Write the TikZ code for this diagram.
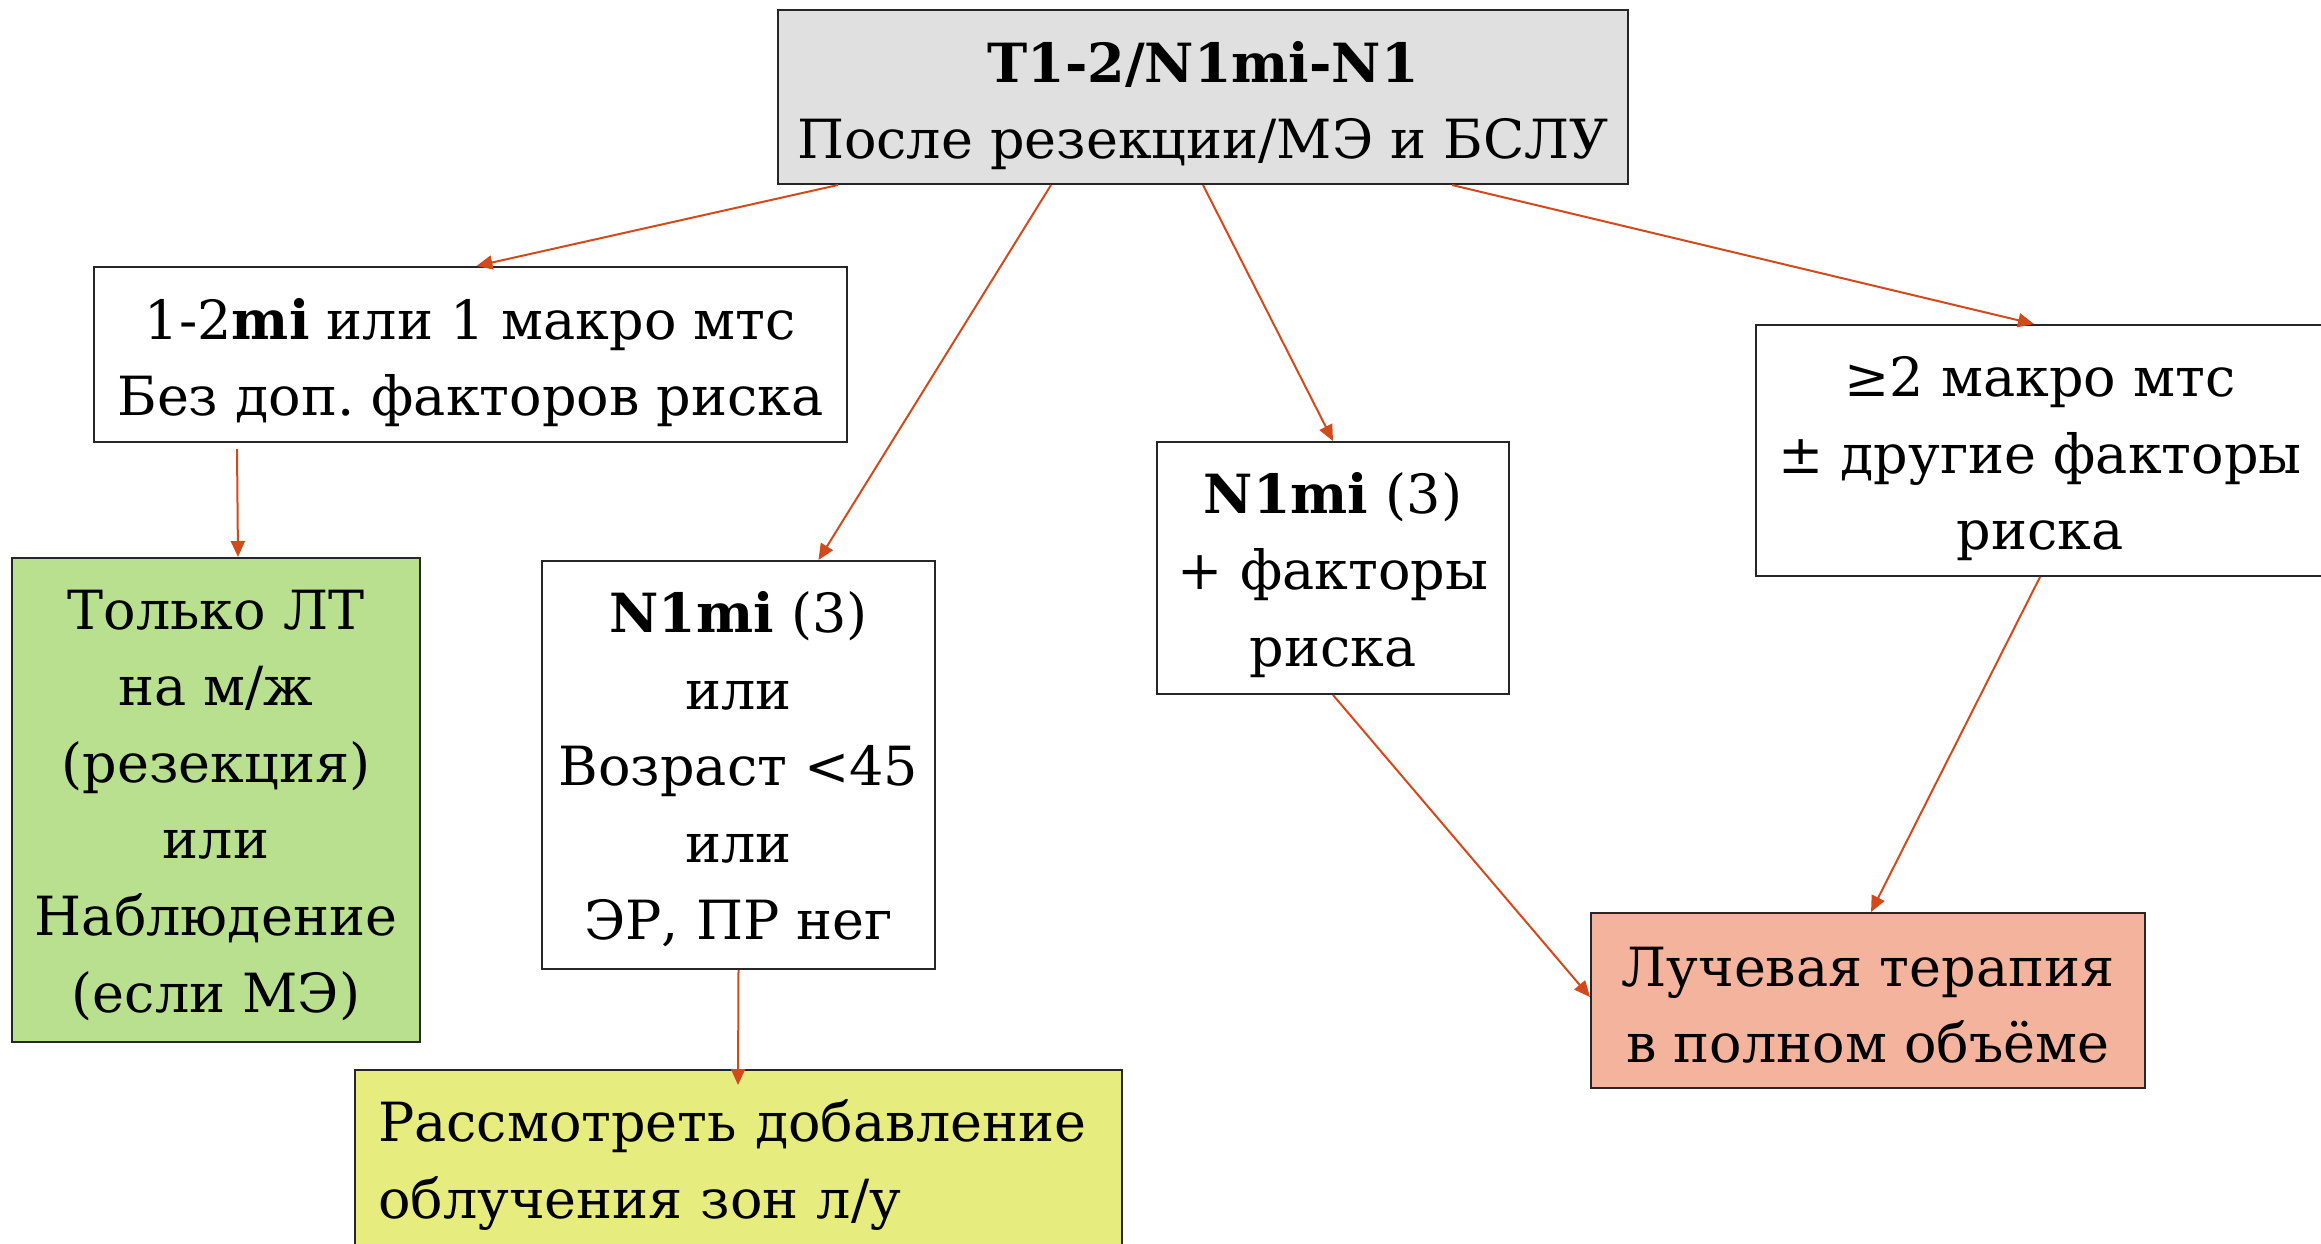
\documentclass[tikz,border=0pt]{standalone}
\usepackage{fontspec}
\setmainfont{DejaVu Serif}
\usetikzlibrary{arrows.meta}
\frenchspacing
\definecolor{arr}{HTML}{D4491A}
\definecolor{gfill}{HTML}{E0E0E0}
\definecolor{greenf}{HTML}{B9E08F}
\definecolor{yellowf}{HTML}{E6EC7E}
\definecolor{orangef}{HTML}{F4B39C}
\newcommand{\ftop}[1]{\rule{0pt}{#1pt}}
\newcommand{\lbot}{\rule[-8pt]{0pt}{8pt}}
\tikzset{
  box/.style={draw=black!85, line width=1pt, align=center, inner sep=0pt,
    font={\fontsize{27}{38.3}\selectfont}},
  conn/.style={draw=arr, line width=1pt, -{Triangle[length=8pt,width=7pt]}}
}
\begin{document}
\begin{tikzpicture}[x=0.5pt,y=-0.5pt]
\clip (0,0) rectangle (2321,1243);
\fill[white] (0,0) rectangle (2321,1243);
\node[box, fill=gfill, minimum width=425pt, minimum height=87pt] (top) at (1203,97)
  {\ftop{31.3}\textbf{T1-2/N1mi-N1}\\После резекции/МЭ и БСЛУ\lbot};
\node[box, minimum width=376.5pt, minimum height=87.5pt] (A) at (470.5,354.5)
  {\ftop{31.1}1-2\textbf{mi} или 1 макро мтс\\Без доп. факторов риска\lbot};
\node[box, fill=greenf, minimum width=204pt, minimum height=242pt] (green) at (216,800)
  {\ftop{28.5}Только ЛТ\\на м/ж\\(резекция)\\или\\Наблюдение\\(если МЭ)\lbot};
\node[box, minimum width=196.5pt, minimum height=204pt] (B) at (738.5,765)
  {\ftop{28.9}\textbf{N1mi} (3)\\или\\Возраст <45\\или\\ЭР, ПР нег\lbot};
\node[box, fill=yellowf, minimum width=383.5pt, minimum height=95pt, text width=360pt,
  align=left, inner xsep=11.5pt] (yellow) at (738,1165)
  {Рассмотреть добавление\\облучения зон л/у};
\node[box, minimum width=176pt, minimum height=126pt] (C) at (1333,568)
  {\ftop{29.6}\textbf{N1mi} (3)\\+ факторы\\риска\lbot};
\node[box, minimum width=284pt, minimum height=125.5pt] (D) at (2040,450.5)
  {\ftop{30.7}≥2 макро мтс\\± другие факторы\\риска\lbot};
\node[box, fill=orangef, minimum width=277pt, minimum height=87.5pt] (orange) at (1868,1000.5)
  {\ftop{31.8}Лучевая терапия\\в полном объёме\lbot};
\draw[conn] ([xshift=30.5pt]top.south west) -- ([xshift=3pt]A.north);
\draw[conn] ([xshift=137pt]top.south west) -- ([xshift=40pt]B.north);
\draw[conn] (top.south) -- (C.north);
\draw[conn] ([xshift=-88.5pt]top.south east) -- ([xshift=-3pt]D.north);
\draw[conn] ([xshift=72pt,yshift=-3pt]A.south west) -- ([xshift=113.5pt]green.north west);
\draw[conn] (B.south) -- ([yshift=-8pt]yellow.north);
\draw[conn] (C.south) -- ([yshift=1.75pt]orange.west);
\draw[conn] (D.south) -- ([xshift=1.5pt]orange.north);
\end{tikzpicture}
\end{document}
